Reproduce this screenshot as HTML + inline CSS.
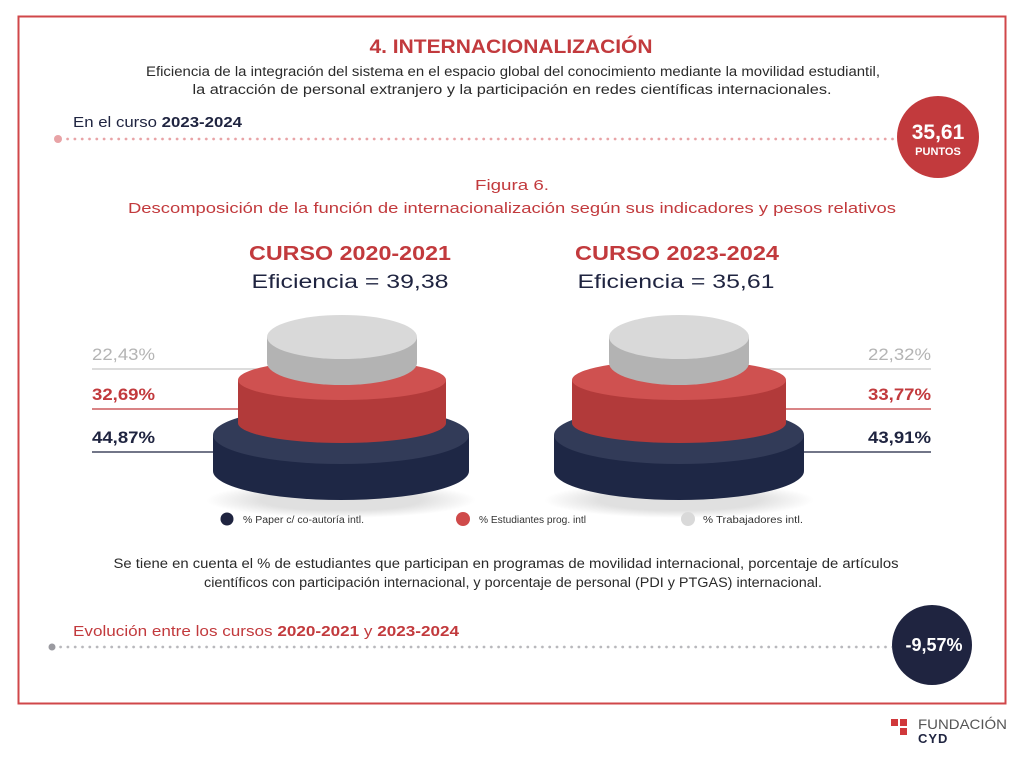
<!DOCTYPE html>
<html><head><meta charset="utf-8"><style>
html,body{margin:0;padding:0;background:#fff;}
svg{display:block;font-family:"Liberation Sans",Arial,sans-serif;}
</style></head><body>
<svg width="1024" height="761" viewBox="0 0 1024 761" xmlns="http://www.w3.org/2000/svg">
<defs>
<pattern id="dr" x="64" y="134" width="7.3" height="10" patternUnits="userSpaceOnUse"><circle cx="3.6" cy="5" r="1.4" fill="#e8a3a6"/></pattern>
<pattern id="dg" x="57" y="642" width="7.3" height="10" patternUnits="userSpaceOnUse"><circle cx="3.6" cy="5" r="1.4" fill="#b8b8bc"/></pattern>
<radialGradient id="sh" cx="0.5" cy="0.5" r="0.5"><stop offset="0.6" stop-color="#000" stop-opacity="0.12"/><stop offset="1" stop-color="#000" stop-opacity="0"/></radialGradient>
</defs>
<rect x="18.5" y="16.5" width="987" height="687" fill="none" stroke="#d0474a" stroke-width="2"/>

<text x="511" y="53" text-anchor="middle" font-size="19" font-weight="bold" fill="#c23a3d" textLength="283" lengthAdjust="spacingAndGlyphs">4. INTERNACIONALIZACIÓN</text>
<text x="513" y="76" text-anchor="middle" font-size="13.5" fill="#2a2a2a" textLength="734" lengthAdjust="spacingAndGlyphs">Eficiencia de la integración del sistema en el espacio global del conocimiento mediante la movilidad estudiantil,</text>
<text x="512" y="94" text-anchor="middle" font-size="13.5" fill="#2a2a2a" textLength="639" lengthAdjust="spacingAndGlyphs">la atracción de personal extranjero y la participación en redes científicas internacionales.</text>

<text x="73" y="127" font-size="14.5" fill="#1f2440" textLength="169" lengthAdjust="spacingAndGlyphs">En el curso <tspan font-weight="bold">2023-2024</tspan></text>
<circle cx="58" cy="139" r="4" fill="#e8a3a6"/>
<rect x="64" y="134" width="832" height="10" fill="url(#dr)"/>
<circle cx="938" cy="137" r="41" fill="#c23a3d"/>
<text x="938" y="139" text-anchor="middle" font-size="21" font-weight="bold" fill="#fff">35,61</text>
<text x="938" y="155" text-anchor="middle" font-size="11" font-weight="bold" fill="#fff">PUNTOS</text>

<text x="512" y="190" text-anchor="middle" font-size="15" fill="#c23a3d" textLength="74" lengthAdjust="spacingAndGlyphs">Figura 6.</text>
<text x="512" y="213" text-anchor="middle" font-size="15" fill="#c23a3d" textLength="768" lengthAdjust="spacingAndGlyphs">Descomposición de la función de internacionalización según sus indicadores y pesos relativos</text>

<text x="350" y="260" text-anchor="middle" font-size="20" font-weight="bold" fill="#c23a3d" textLength="202" lengthAdjust="spacingAndGlyphs">CURSO 2020-2021</text>
<text x="350" y="288" text-anchor="middle" font-size="19" fill="#1f2440" textLength="197" lengthAdjust="spacingAndGlyphs">Eficiencia = 39,38</text>
<text x="677" y="260" text-anchor="middle" font-size="20" font-weight="bold" fill="#c23a3d" textLength="204" lengthAdjust="spacingAndGlyphs">CURSO 2023-2024</text>
<text x="676" y="288" text-anchor="middle" font-size="19" fill="#1f2440" textLength="197" lengthAdjust="spacingAndGlyphs">Eficiencia = 35,61</text>

<text x="92" y="360" font-size="17" fill="#b4b4b4" textLength="63" lengthAdjust="spacingAndGlyphs">22,43%</text>
<line x1="92" y1="369" x2="270" y2="369" stroke="#c8c8c8" stroke-width="1.2"/>
<text x="92" y="400" font-size="17" font-weight="bold" fill="#c23a3d" textLength="63" lengthAdjust="spacingAndGlyphs">32,69%</text>
<line x1="92" y1="409" x2="240" y2="409" stroke="#c23a3d" stroke-width="1.2"/>
<text x="92" y="443" font-size="17" font-weight="bold" fill="#1f2440" textLength="63" lengthAdjust="spacingAndGlyphs">44,87%</text>
<line x1="92" y1="452" x2="215" y2="452" stroke="#1f2440" stroke-width="1.2"/>
<text x="931" y="360" text-anchor="end" font-size="17" fill="#b4b4b4" textLength="63" lengthAdjust="spacingAndGlyphs">22,32%</text>
<line x1="748" y1="369" x2="931" y2="369" stroke="#c8c8c8" stroke-width="1.2"/>
<text x="931" y="400" text-anchor="end" font-size="17" font-weight="bold" fill="#c23a3d" textLength="63" lengthAdjust="spacingAndGlyphs">33,77%</text>
<line x1="782" y1="409" x2="931" y2="409" stroke="#c23a3d" stroke-width="1.2"/>
<text x="931" y="443" text-anchor="end" font-size="17" font-weight="bold" fill="#1f2440" textLength="63" lengthAdjust="spacingAndGlyphs">43,91%</text>
<line x1="802" y1="452" x2="931" y2="452" stroke="#1f2440" stroke-width="1.2"/>

<g>
<ellipse cx="341" cy="500" rx="135" ry="18" fill="url(#sh)"/>
<path d="M213 435 L213 471 A128 29 0 0 0 469 471 L469 435 Z" fill="#1e2745"/>
<ellipse cx="341" cy="435" rx="128" ry="29" fill="#323b58"/>
<path d="M238 380 L238 423 A104 20 0 0 0 446 423 L446 380 Z" fill="#b23a3a"/>
<ellipse cx="342" cy="380" rx="104" ry="20" fill="#cf5150"/>
<path d="M267 337 L267 363 A75 22 0 0 0 417 363 L417 337 Z" fill="#b3b3b3"/>
<ellipse cx="342" cy="337" rx="75" ry="22" fill="#d9d9d9"/>
</g>
<g>
<ellipse cx="679" cy="500" rx="135" ry="18" fill="url(#sh)"/>
<path d="M554 435 L554 471 A125 29 0 0 0 804 471 L804 435 Z" fill="#1e2745"/>
<ellipse cx="679" cy="435" rx="125" ry="29" fill="#323b58"/>
<path d="M572 380 L572 423 A107 20 0 0 0 786 423 L786 380 Z" fill="#b23a3a"/>
<ellipse cx="679" cy="380" rx="107" ry="20" fill="#cf5150"/>
<path d="M609 337 L609 363 A70 22 0 0 0 749 363 L749 337 Z" fill="#b3b3b3"/>
<ellipse cx="679" cy="337" rx="70" ry="22" fill="#d9d9d9"/>
</g>

<circle cx="227" cy="519" r="6.5" fill="#1f2440"/>
<text x="243" y="523" font-size="10" fill="#333" textLength="121" lengthAdjust="spacingAndGlyphs">% Paper c/ co-autoría intl.</text>
<circle cx="463" cy="519" r="7" fill="#cf4a4a"/>
<text x="479" y="523" font-size="10" fill="#333" textLength="107" lengthAdjust="spacingAndGlyphs">% Estudiantes prog. intl</text>
<circle cx="688" cy="519" r="7" fill="#d9d9d9"/>
<text x="703" y="523" font-size="10" fill="#333" textLength="100" lengthAdjust="spacingAndGlyphs">% Trabajadores intl.</text>

<text x="506" y="568" text-anchor="middle" font-size="13.5" fill="#2a2a2a" textLength="785" lengthAdjust="spacingAndGlyphs">Se tiene en cuenta el % de estudiantes que participan en programas de movilidad internacional, porcentaje de artículos</text>
<text x="513" y="587" text-anchor="middle" font-size="13.5" fill="#2a2a2a" textLength="618" lengthAdjust="spacingAndGlyphs">científicos con participación internacional, y porcentaje de personal (PDI y PTGAS) internacional.</text>

<text x="73" y="636" font-size="15" fill="#c23a3d" textLength="386" lengthAdjust="spacingAndGlyphs">Evolución entre los cursos <tspan font-weight="bold">2020-2021</tspan> y <tspan font-weight="bold">2023-2024</tspan></text>
<circle cx="52" cy="647" r="3.5" fill="#9a9aa0"/>
<rect x="57" y="642" width="835" height="10" fill="url(#dg)"/>
<circle cx="932" cy="645" r="40" fill="#1f2440"/>
<text x="934" y="651" text-anchor="middle" font-size="18" font-weight="bold" fill="#fff">-9,57%</text>

<rect x="891" y="719" width="7" height="7" fill="#d0383b"/>
<rect x="900" y="719" width="7" height="7" fill="#d0383b"/>
<rect x="900" y="728" width="7" height="7" fill="#d0383b"/>
<text x="918" y="729" font-size="14" fill="#555" textLength="89" lengthAdjust="spacingAndGlyphs">FUNDACIÓN</text>
<text x="918" y="743" font-size="13" font-weight="bold" fill="#1f2440" letter-spacing="1">CYD</text>
</svg>
</body></html>
